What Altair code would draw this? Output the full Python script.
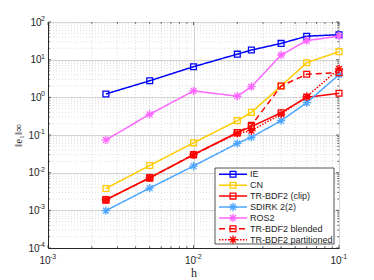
import altair as alt
import pandas as pd

# ---- data ----
h = [0.0025, 0.005, 0.01, 0.02, 0.025, 0.04, 0.06, 0.1]
ie = [1.23, 2.75, 6.5, 14.0, 18.0, 27.0, 42.0, 46.0]
cn = [0.0038, 0.0155, 0.062, 0.24, 0.40, 2.0, 8.3, 16.3]
trbdf2_clip = [0.0019, 0.0073, 0.030, 0.116, 0.167, 0.39, 1.0, 1.28]
sdirk = [0.00098, 0.0039, 0.015, 0.060, 0.087, 0.24, 0.72, 4.0]
ros2 = [0.074, 0.355, 1.48, 1.07, 1.92, 13.3, 32.0, 42.0]
trbdf2_blended = [0.0019, 0.0073, 0.030, 0.116, 0.18, 2.0, 4.1, 4.5]
trbdf2_part = [0.0019, 0.0073, 0.030, 0.11, 0.13, 0.36, 1.05, 5.7]

series_names = ["IE", "CN", "TR-BDF2 (clip)", "SDIRK 2(2)", "ROS2",
                "TR-BDF2 blended", "TR-BDF2 partitioned"]
series_vals = [ie, cn, trbdf2_clip, sdirk, ros2, trbdf2_blended, trbdf2_part]
colors = ["#0000ff", "#ffcc00", "#ff0000", "#4da6ff", "#ff66ff", "#ff0000", "#ff0000"]
ASTER = "M-1,0L1,0M0,-1L0,1M-0.7,-0.7L0.7,0.7M-0.7,0.7L0.7,-0.7"
shapes = ["square", "square", "square", ASTER, ASTER, "square", ASTER]
sizes = [34, 34, 34, 70, 70, 34, 70]
dashes = [[1, 0], [1, 0], [1, 0], [1, 0], [1, 0], [6, 4], [1.5, 1.5]]

x_major = [0.001, 0.01, 0.1]
x_exp = ["-3", "-2", "-1"]
y_major = [1e-4, 1e-3, 1e-2, 1e-1, 1, 10, 100]
y_exp = ["-4", "-3", "-2", "-1", "0", "1", "2"]
x_minor = [k * 10.0 ** d for d in (-3, -2) for k in range(2, 10)]
y_minor = [k * 10.0 ** d for d in (-4, -3, -2, -1, 0, 1) for k in range(2, 10)]

rows = []
for name, vals in zip(series_names, series_vals):
    for hv, v in zip(h, vals):
        rows.append({"h": hv, "err": v, "series": name})
df = pd.DataFrame(rows)

FONT = "Liberation Sans"
SERIF = "Liberation Serif"
TXT = "#262626"
W, H = 291, 226

xscale = alt.Scale(type="log", domain=[0.001, 0.1], nice=False)
yscale = alt.Scale(type="log", domain=[1e-4, 100], nice=False)

xaxis = alt.Axis(values=x_major, labelExpr="'10'", title="h",
                 grid=True, gridColor="#d4d4d4", gridWidth=1, ticks=False,
                 domainColor=TXT, labelFont=FONT, labelFontSize=10, labelColor=TXT,
                 labelAlign="right", labelOffset=2, labelPadding=7,
                 titleFont=SERIF, titleFontSize=12, titleFontWeight="normal",
                 titleColor=TXT, titleY=28, titleBaseline="alphabetic")
yaxis = alt.Axis(values=y_major, labelExpr="'10'", title="‖e₁‖∞",
                 grid=True, gridColor="#d4d4d4", gridWidth=1, ticks=False,
                 domainColor=TXT, labelFont=FONT, labelFontSize=10, labelColor=TXT,
                 labelBaseline="middle",
                 labelPadding=alt.ExprRef(expr="datum.value < 1 ? 9 : 7"),
                 titleFont=SERIF, titleFontSize=11, titleFontWeight="normal",
                 titleColor=TXT, titleX=-30, titleY=H / 2, titleBaseline="middle",
                 titleAlign="center", titleAngle=270)

minor_x = alt.Chart(pd.DataFrame({"v": x_minor})).mark_rule(
    color="#c8c8c8", strokeWidth=0.6, strokeDash=[1, 2]).encode(
    x=alt.X("v:Q", scale=xscale, axis=xaxis))
minor_y = alt.Chart(pd.DataFrame({"v": y_minor})).mark_rule(
    color="#c8c8c8", strokeWidth=0.6, strokeDash=[1, 2]).encode(
    y=alt.Y("v:Q", scale=yscale, axis=yaxis))

# inward ticks on all four sides (MATLAB style)
def xticks(vals, ln):
    d = pd.DataFrame({"v": vals})
    bot = alt.Chart(d).mark_rule(color=TXT, strokeWidth=0.7).encode(
        x=alt.X("v:Q", scale=xscale, axis=xaxis), y=alt.value(H), y2=alt.value(H - ln))
    top = alt.Chart(d).mark_rule(color=TXT, strokeWidth=0.7).encode(
        x=alt.X("v:Q", scale=xscale, axis=xaxis), y=alt.value(0), y2=alt.value(ln))
    return [bot, top]

def yticks(vals, ln):
    d = pd.DataFrame({"v": vals})
    lft = alt.Chart(d).mark_rule(color=TXT, strokeWidth=0.7).encode(
        y=alt.Y("v:Q", scale=yscale, axis=yaxis), x=alt.value(0), x2=alt.value(ln))
    rgt = alt.Chart(d).mark_rule(color=TXT, strokeWidth=0.7).encode(
        y=alt.Y("v:Q", scale=yscale, axis=yaxis), x=alt.value(W), x2=alt.value(W - ln))
    return [lft, rgt]

tick_layers = xticks(x_major, 3) + xticks(x_minor, 1.8) + yticks(y_major, 3) + yticks(y_minor, 1.8)

# exponents of the tick labels (superscripts)
xexp_txt = alt.Chart(pd.DataFrame({"v": x_major, "e": x_exp})).mark_text(
    align="left", baseline="middle", font=FONT, fontSize=7, color=TXT, dx=2).encode(
    x=alt.X("v:Q", scale=xscale, axis=xaxis), y=alt.value(H + 8.5), text="e:N")
yexp_txt = alt.Chart(pd.DataFrame({"v": y_major, "e": y_exp})).mark_text(
    align="right", baseline="middle", font=FONT, fontSize=7, color=TXT, dy=-3).encode(
    y=alt.Y("v:Q", scale=yscale, axis=yaxis), x=alt.value(-3), text="e:N")

layers = [minor_x, minor_y] + tick_layers + [xexp_txt, yexp_txt]
for i, name in enumerate(series_names):
    sub = df[df.series == name]
    base = alt.Chart(sub)
    line = base.mark_line(color=colors[i], strokeWidth=1.5,
                          strokeDash=dashes[i]).encode(
        x=alt.X("h:Q", scale=xscale, axis=xaxis),
        y=alt.Y("err:Q", scale=yscale, axis=yaxis))
    pts = base.mark_point(shape=shapes[i], size=sizes[i], filled=False,
                          color=colors[i], strokeWidth=1.3, opacity=1).encode(
        x=alt.X("h:Q", scale=xscale, axis=xaxis),
        y=alt.Y("err:Q", scale=yscale, axis=yaxis))
    layers += [line, pts]
main = alt.layer(*layers)

# ---- legend ----
leg_df = pd.DataFrame({"series": series_names, "row": list(range(len(series_names)))})
ley = alt.Scale(type="point", domain=list(range(len(series_names))),
                range=[152.3, 217.7], padding=0)
box = alt.Chart(leg_df.head(1)).mark_rect(fill="white", stroke=TXT, strokeWidth=0.8).encode(
    x=alt.value(167), x2=alt.value(286), y=alt.value(146), y2=alt.value(222))
leg_layers = [box]
for i, name in enumerate(series_names):
    one = alt.Chart(leg_df[leg_df.series == name])
    leg_layers.append(one.mark_rule(strokeWidth=1.5, color=colors[i],
                                    strokeDash=dashes[i]).encode(
        x=alt.value(171), x2=alt.value(199),
        y=alt.Y("row:O", scale=ley, axis=None)))
    leg_layers.append(one.mark_point(shape=shapes[i], size=sizes[i], filled=False,
                                     color=colors[i], strokeWidth=1.3, opacity=1).encode(
        x=alt.value(185), y=alt.Y("row:O", scale=ley, axis=None)))
leg_txt = alt.Chart(leg_df).mark_text(align="left", baseline="middle", font=FONT,
                                       fontSize=9, color=TXT).encode(
    x=alt.value(202), y=alt.Y("row:O", scale=ley, axis=None), text="series:N")
leg_layers.append(leg_txt)
legend = alt.layer(*leg_layers)

chart = alt.layer(main, legend).resolve_scale(
    y="independent", x="independent").properties(
    width=W, height=H,
    autosize=alt.AutoSizeParams(type="none"),
    padding={"left": 40, "top": 14, "right": 20, "bottom": 30},
).configure_view(stroke=TXT, strokeWidth=1).configure(background="white")

chart.save("out.html", embed_options={"renderer": "svg", "actions": False})
